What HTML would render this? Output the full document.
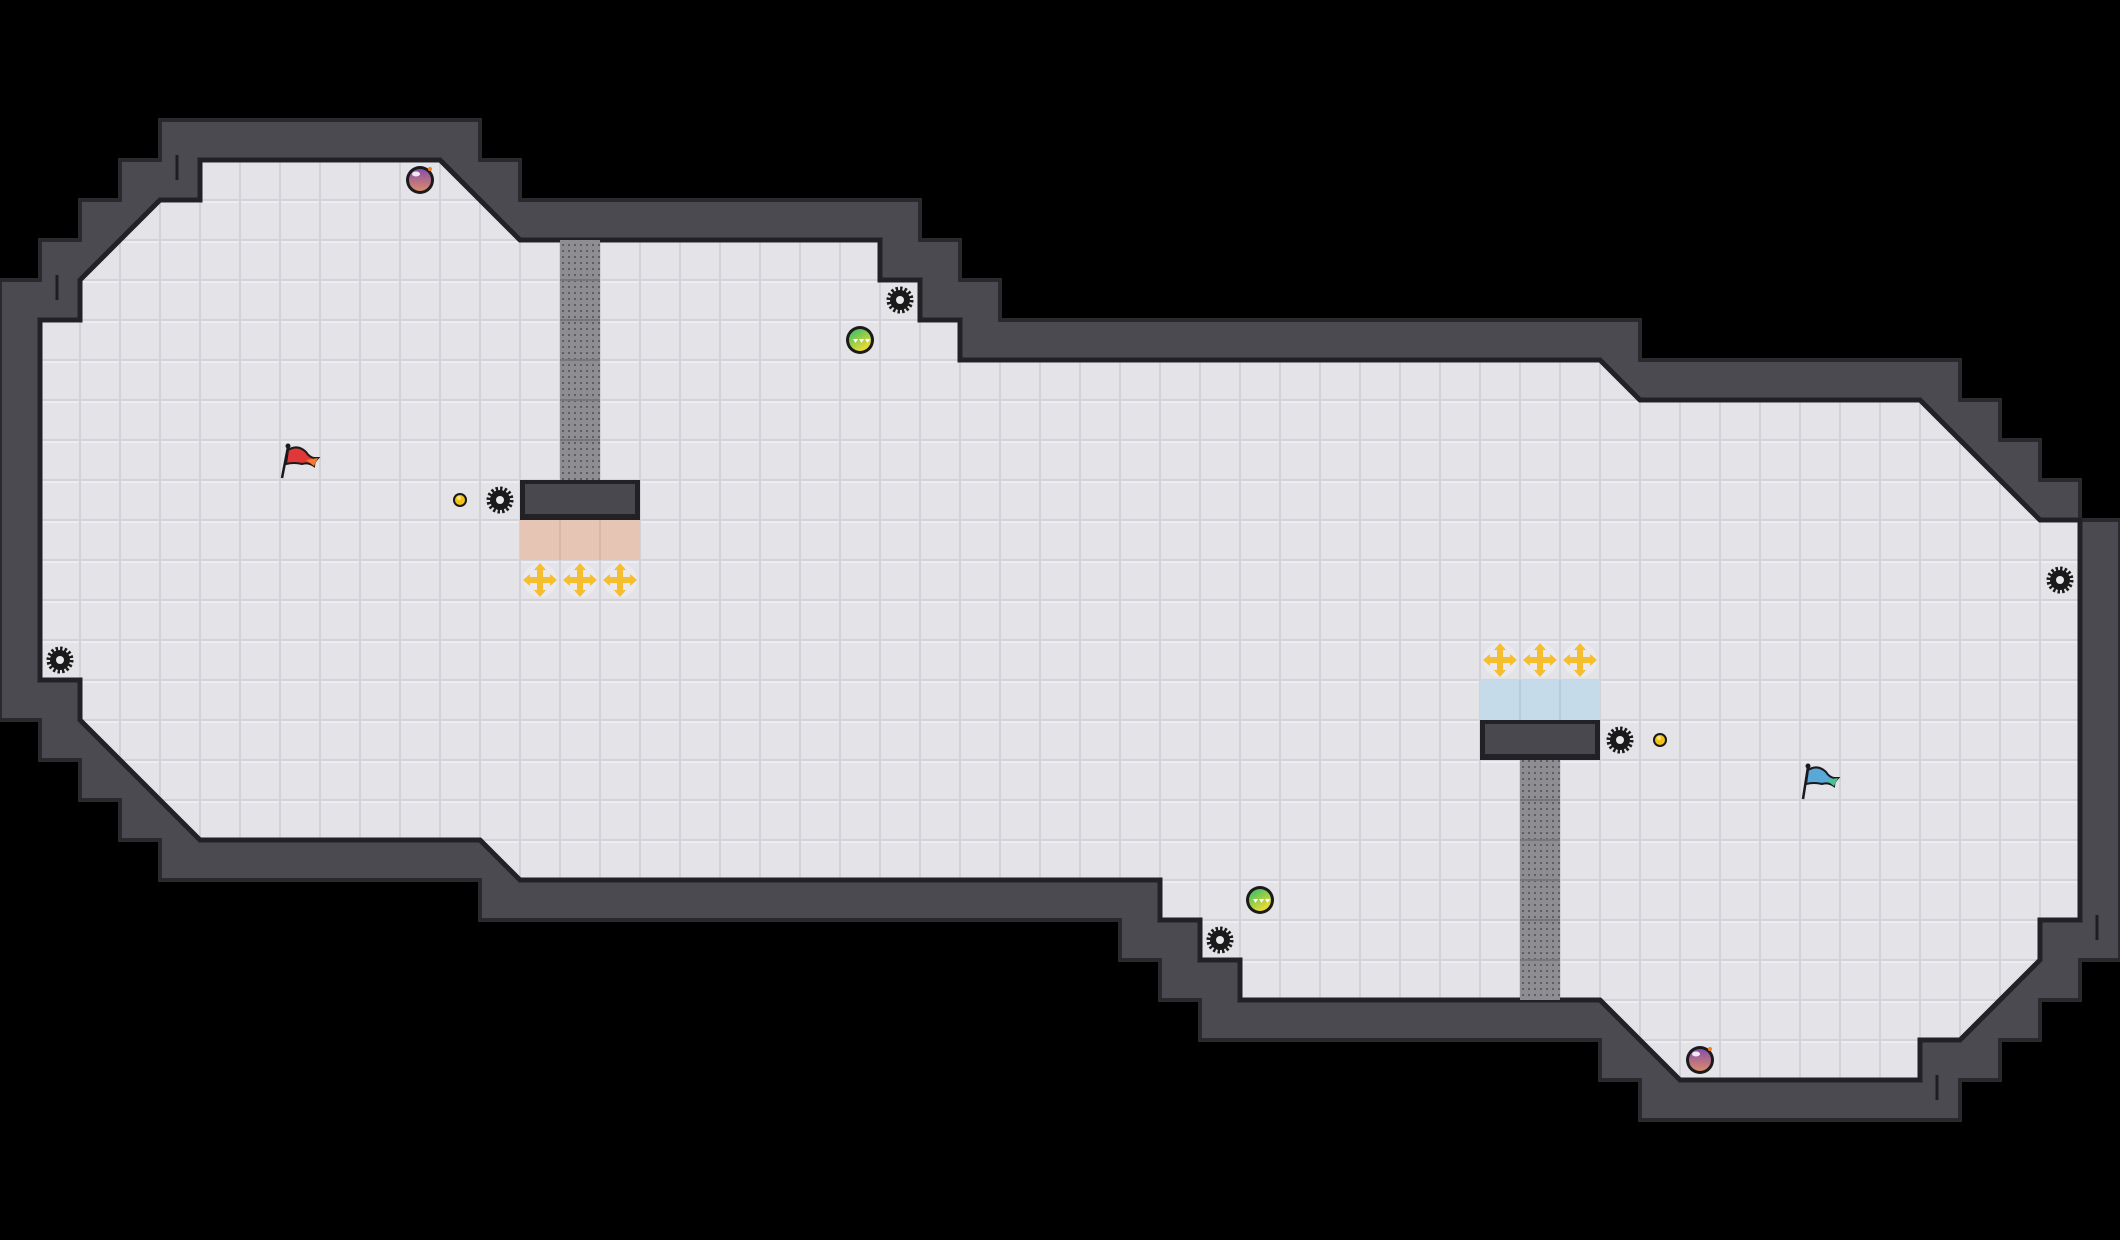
<!DOCTYPE html>
<html><head><meta charset="utf-8"><style>
html,body{margin:0;padding:0;background:#000;width:2120px;height:1240px;overflow:hidden}
svg{display:block}
</style></head><body>
<svg width="2120" height="1240" viewBox="0 0 2120 1240" xmlns="http://www.w3.org/2000/svg">
<defs>
<pattern id="tile" width="40" height="40" patternUnits="userSpaceOnUse">
<rect width="40" height="40" fill="#d2d2d8"/>
<rect x="1" y="1" width="38" height="38" fill="#e3e3e8"/>
<rect x="1" y="1" width="38" height="2" fill="#ededf1"/>
</pattern>
<pattern id="dots" width="6" height="6" patternUnits="userSpaceOnUse" x="2" y="2">
<rect width="6" height="6" fill="#8e8e92"/>
<circle cx="3" cy="3" r="1.1" fill="#5a5a5e"/>
</pattern>
<g id="gear">
<circle r="11" fill="none" stroke="#1a1a1a" stroke-width="5" stroke-dasharray="2.3 2"/>
<circle r="10" fill="#1a1a1a"/>
<circle r="4" fill="#e8e8ec"/>
</g>
<g id="cross">
<circle r="17" fill="#e9e9ee"/>
<path d="M-3,-10 h6 v7 h7 v6 h-7 v7 h-6 v-7 h-7 v-6 h7z" fill="#f6bd2c"/>
<path d="M0,-17 l-6,7 h12z M0,17 l-6,-7 h12z M-17,0 l7,-6 v12z M17,0 l-7,-6 v12z" fill="#f6bd2c"/>
</g>
<g id="coin"><circle r="7" fill="#1a1a1a"/><circle r="5" fill="#f2c11c"/><circle cx="-1" cy="-2" r="2" fill="#fde27a"/></g>
<linearGradient id="gball" x1="0" y1="0" x2="0.6" y2="1"><stop offset="0" stop-color="#2ebc6a"/><stop offset="1" stop-color="#f0dc30"/></linearGradient>
<g id="ball"><circle r="14" fill="#1a1a1a"/><circle r="11" fill="url(#gball)"/>
<path d="M-7,-1 l2.5,4 l2.5,-4z M-1,-1 l2.5,4 l2.5,-4z M5,-1 l2.5,4 l2.5,-4z" fill="#fff"/></g>
<linearGradient id="pb" x1="0" y1="0" x2="0" y2="1"><stop offset="0" stop-color="#8a4fa8"/><stop offset="1" stop-color="#d98a6a"/></linearGradient>
<g id="bomb"><circle r="14" fill="#1a1a1a"/><circle r="11" fill="url(#pb)"/><ellipse cx="-4" cy="-6" rx="4" ry="2.5" fill="#f3e6f5"/><circle cx="10" cy="-11" r="2" fill="#f08020"/></g>
</defs>
<rect width="2120" height="1240" fill="#000"/>
<!-- outer wall -->
<polygon points="160,120 480,120 480,160 520,160 520,200 920,200 920,240 960,240 960,280 1000,280 1000,320 1640,320 1640,360 1960,360 1960,400 2000,400 2000,440 2040,440 2040,480 2080,480 2080,520 2120,520 2120,960 2080,960 2080,1000 2040,1000 2040,1040 2000,1040 2000,1080 1960,1080 1960,1120 1640,1120 1640,1080 1600,1080 1600,1040 1200,1040 1200,1000 1160,1000 1160,960 1120,960 1120,920 480,920 480,880 160,880 160,840 120,840 120,800 80,800 80,760 40,760 40,720 0,720 0,280 40,280 40,240 80,240 80,200 120,200 120,160 160,160" fill="#4a4a50" stroke="#2a2a2e" stroke-width="4"/>
<!-- floor -->
<polygon points="200,160 440,160 520,240 880,240 880,280 920,280 920,320 960,320 960,360 1600,360 1640,400 1920,400 2040,520 2080,520 2080,920 2040,920 2040,960 1960,1040 1920,1040 1920,1080 1680,1080 1600,1000 1240,1000 1240,960 1200,960 1200,920 1160,920 1160,880 520,880 480,840 200,840 80,720 80,680 40,680 40,320 80,320 80,280 160,200 200,200" fill="url(#tile)" stroke="#222226" stroke-width="5" stroke-linejoin="miter"/>
<!-- wall scratches -->
<g stroke="#1e1e22" stroke-width="3">
<line x1="177" y1="155" x2="177" y2="180"/><line x1="57" y1="275" x2="57" y2="300"/>
<line x1="2097" y1="915" x2="2097" y2="940"/><line x1="1937" y1="1075" x2="1937" y2="1100"/>
</g>
<!-- left structure -->
<rect x="560" y="240" width="40" height="240" fill="url(#dots)"/>
<g stroke="#75757a" stroke-width="2"><line x1="560" y1="280" x2="600" y2="280"/><line x1="560" y1="320" x2="600" y2="320"/><line x1="560" y1="360" x2="600" y2="360"/><line x1="560" y1="400" x2="600" y2="400"/><line x1="560" y1="440" x2="600" y2="440"/></g>
<rect x="520" y="480" width="120" height="40" fill="#222226"/>
<rect x="525" y="484" width="110" height="30" fill="#48484e"/>
<rect x="520" y="520" width="120" height="40" fill="#e7c5b5"/>
<g stroke="#d6b2a2" stroke-width="1.5"><line x1="560" y1="520" x2="560" y2="560"/><line x1="600" y1="520" x2="600" y2="560"/></g>
<use href="#cross" x="540" y="580"/><use href="#cross" x="580" y="580"/><use href="#cross" x="620" y="580"/>
<use href="#coin" x="460" y="500"/><use href="#gear" x="500" y="500"/>
<!-- right structure -->
<rect x="1520" y="760" width="40" height="240" fill="url(#dots)"/>
<g stroke="#75757a" stroke-width="2"><line x1="1520" y1="800" x2="1560" y2="800"/><line x1="1520" y1="840" x2="1560" y2="840"/><line x1="1520" y1="880" x2="1560" y2="880"/><line x1="1520" y1="920" x2="1560" y2="920"/><line x1="1520" y1="960" x2="1560" y2="960"/></g>
<rect x="1480" y="720" width="120" height="40" fill="#222226"/>
<rect x="1485" y="724" width="110" height="30" fill="#48484e"/>
<rect x="1480" y="680" width="120" height="40" fill="#c5dbe9"/>
<g stroke="#b0c8d8" stroke-width="1.5"><line x1="1520" y1="680" x2="1520" y2="720"/><line x1="1560" y1="680" x2="1560" y2="720"/></g>
<use href="#cross" x="1500" y="660"/><use href="#cross" x="1540" y="660"/><use href="#cross" x="1580" y="660"/>
<use href="#gear" x="1620" y="740"/><use href="#coin" x="1660" y="740"/>
<!-- items -->
<use href="#bomb" x="420" y="180"/><use href="#bomb" x="1700" y="1060"/>
<use href="#ball" x="860" y="340"/><use href="#ball" x="1260" y="900"/>
<use href="#gear" x="900" y="300"/><use href="#gear" x="60" y="660"/><use href="#gear" x="2060" y="580"/><use href="#gear" x="1220" y="940"/>
<!-- red flag -->
<g>
<line x1="282" y1="478" x2="288" y2="447" stroke="#1a1a1a" stroke-width="2.5"/>
<circle cx="288" cy="446" r="2.5" fill="#1a1a1a"/>
<path d="M288,450 q10,-6 18,2 q3,5 8,6 l4,0 q-4,4 -4,8 q-6,-4 -12,-2 q-8,-2 -16,0z" fill="#e03838" stroke="#1a1a1a" stroke-width="2"/>
<path d="M306,460 l12,-2 l-4,8z" fill="#f07a30"/>
</g>
<!-- blue flag -->
<g>
<line x1="1803" y1="799" x2="1808" y2="767" stroke="#1a1a1a" stroke-width="2.5"/>
<circle cx="1808" cy="766" r="2.5" fill="#1a1a1a"/>
<path d="M1808,770 q10,-6 18,2 q3,5 8,6 l4,0 q-4,4 -4,8 q-6,-4 -12,-2 q-8,-2 -16,0z" fill="#5aa8d8" stroke="#1a1a1a" stroke-width="2"/>
<path d="M1826,780 l12,-2 l-4,8z" fill="#4cc090"/>
</g>
</svg>
</body></html>
